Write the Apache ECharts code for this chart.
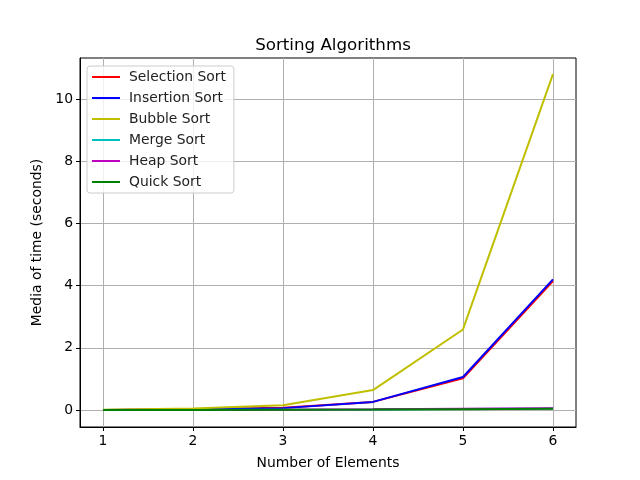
<!DOCTYPE html>
<html><head><meta charset="utf-8">
<script src="https://cdn.jsdelivr.net/npm/echarts@6/dist/echarts.min.js"></script>
<style>html,body{margin:0;padding:0;background:#fff}#c{width:640px;height:480px}</style>
</head><body><div id="c"></div>
<script>
const sizes = [1, 2, 3, 4, 5, 6];
const selectionSort = [0.003, 0.02, 0.07, 0.26, 1.02, 4.15];
const insertionSort = [0.003, 0.02, 0.06, 0.26, 1.06, 4.20];
const bubbleSort = [0.01, 0.05, 0.15, 0.64, 2.59, 10.8];
const mergeSort = [0.0005, 0.003, 0.008, 0.015, 0.03, 0.05];
const heapSort = [0.0005, 0.003, 0.01, 0.02, 0.04, 0.06];
const quickSort = [0.0003, 0.002, 0.006, 0.012, 0.025, 0.04];
const xTicks = [1, 2, 3, 4, 5, 6];
const yTicks = [0, 2, 4, 6, 8, 10];

const names = ['Selection Sort','Insertion Sort','Bubble Sort','Merge Sort','Heap Sort','Quick Sort'];
const colors = ['#ff0000','#0000ff','#bfbf00','#00bfbf','#bf00bf','#008000'];
const datas = [selectionSort, insertionSort, bubbleSort, mergeSort, heapSort, quickSort];
const font = 'DejaVu Sans';
const fs = 13.9;

const chart = echarts.init(document.getElementById('c'));
chart.setOption({
  animation: false,
  textStyle: {fontFamily: font},
  title: {text: 'Sorting Algorithms', left: 328, top: 32, textAlign: 'center',
    textStyle: {fontFamily: font, fontSize: 16.7, fontWeight: 'normal', color: '#000'}},
  grid: {left: 80, right: 64, top: 58, bottom: 53, show: true, borderColor: '#000', borderWidth: 1, containLabel: false},
  legend: {
    orient: 'vertical', left: 87, top: 66, data: names,
    icon: 'rect', itemWidth: 28, itemHeight: 2, itemGap: 7,
    padding: [4, 8, 4, 5], borderColor: '#cccccc', borderWidth: 1, borderRadius: 3,
    backgroundColor: 'rgba(255,255,255,0.8)',
    textStyle: {fontFamily: font, fontSize: fs, color: '#222', padding: [0,0,0,4]}
  },
  xAxis: {
    type: 'value', min: 0.744, max: 6.256,
    name: 'Number of Elements', nameLocation: 'middle', nameGap: 29,
    nameTextStyle: {fontFamily: font, fontSize: fs, color: '#000'},
    axisLine: {show: true, onZero: false, lineStyle: {color: '#000', width: 1}},
    axisTick: {show: true, length: 4, inside: false, lineStyle: {color: '#000'}, customValues: xTicks},
    axisLabel: {customValues: xTicks, fontFamily: font, fontSize: fs, color: '#000', margin: 7},
    splitLine: {show: true, lineStyle: {color: '#b0b0b0', width: 1}}
  },
  yAxis: {
    type: 'value', min: -0.547, max: 11.32,
    name: 'Media of time (seconds)', nameLocation: 'middle', nameGap: 30,
    nameTextStyle: {fontFamily: font, fontSize: fs, color: '#000'},
    axisLine: {show: true, onZero: false, lineStyle: {color: '#000', width: 1}},
    axisTick: {show: true, length: 4, inside: false, lineStyle: {color: '#000'}, customValues: yTicks},
    axisLabel: {customValues: yTicks, fontFamily: font, fontSize: fs, color: '#000', margin: 7},
    splitLine: {show: true, lineStyle: {color: '#b0b0b0', width: 1}}
  },
  series: names.map((n, i) => ({
    name: n, type: 'line', symbol: 'none', color: colors[i],
    lineStyle: {width: 2, color: colors[i]},
    data: sizes.map((s, j) => [s, datas[i][j]])
  }))
});
</script></body></html>
